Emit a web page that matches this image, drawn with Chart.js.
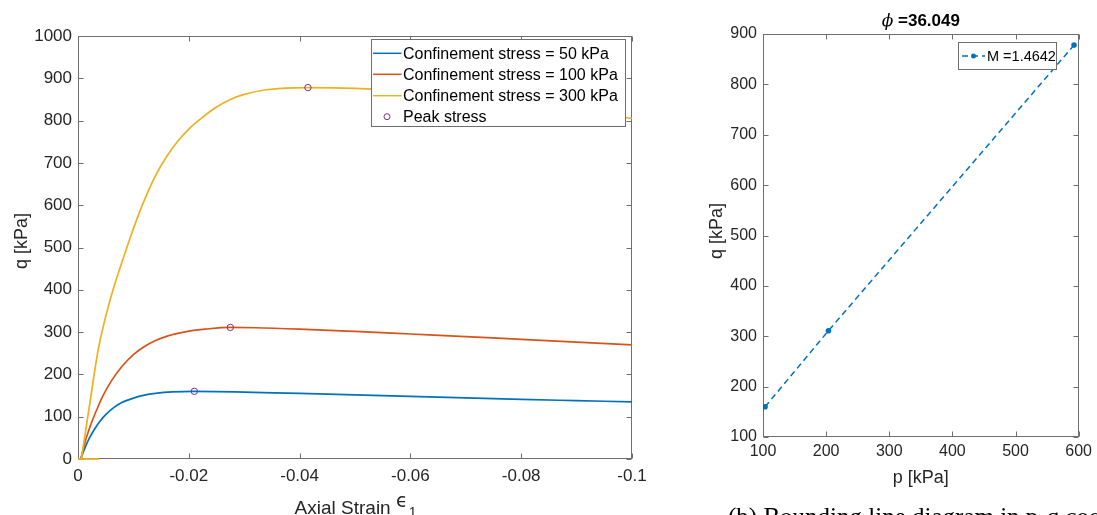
<!DOCTYPE html>
<html>
<head>
<meta charset="utf-8">
<script src="https://cdn.jsdelivr.net/npm/chart.js@4/dist/chart.umd.min.js"></script>
<style>
  html, body { margin: 0; padding: 0; background: #fff; }
  body { width: 1097px; height: 515px; position: relative; overflow: hidden; }
  #left { position: absolute; left: 0; top: 0; }
  #right { position: absolute; left: 680px; top: 0; }
  #caption {
    position: absolute; left: 728px; top: 504px; white-space: nowrap;
    font-family: "Liberation Serif", "Times New Roman", serif; font-size: 25px; line-height: 25px; color: #000;
  }
</style>
</head>
<body>
<canvas id="left" width="660" height="515"></canvas>
<canvas id="right" width="417" height="515"></canvas>
<div id="caption">(b) Bounding line diagram in p-q coordinates</div>
<script>
// Deviatoric stress q [kPa] against axial strain for three confinement stresses
const strain50 = [-0.0005, -0.001, -0.002, -0.003, -0.004, -0.005, -0.0065, -0.008, -0.010, -0.012, -0.014, -0.017, -0.021, -0.025, -0.03, -0.04, -0.05, -0.06, -0.07, -0.08, -0.09, -0.1];
const q50 = [0, 18, 48, 71, 90, 105, 122, 134, 144, 151, 155, 158.5, 160, 159.5, 158, 155, 151.5, 148, 144.5, 141, 138, 135];

const strain100 = [-0.0005, -0.001, -0.0015, -0.0025, -0.0035, -0.0045, -0.006, -0.008, -0.010, -0.012, -0.014, -0.016, -0.018, -0.020, -0.023, -0.0275, -0.032, -0.04, -0.05, -0.06, -0.07, -0.08, -0.09, -0.1];
const q100 = [0, 26, 50, 88, 120, 149, 184, 220, 247, 266, 280, 290, 297, 302.5, 307, 311, 310.3, 307, 301.5, 295.5, 289.5, 283, 276.5, 270];

const strain300 = [-0.0006, -0.002, -0.0036, -0.0045, -0.0055, -0.0065, -0.008, -0.0095, -0.011, -0.0125, -0.014, -0.016, -0.018, -0.020, -0.0225, -0.025, -0.0275, -0.030, -0.034, -0.0415, -0.05, -0.06, -0.07, -0.08, -0.09, -0.1];
const q300 = [0, 120, 255, 310, 362, 408, 468, 526, 580, 628, 670, 715, 751, 780, 808, 832, 850, 862, 873, 878, 876, 868, 856, 841, 824, 805];
// initial seating segment of the 300 kPa test
const strain300Seat = [0, -0.0038];
const q300Seat = [0, 0];

// peak of each curve
const peakStrain = [-0.021, -0.0275, -0.0415];
const peakQ = [160, 311, 878];

const seriesLabels = ['Confinement stress = 50 kPa', 'Confinement stress = 100 kPa', 'Confinement stress = 300 kPa', 'Peak stress'];
const strainTicks = [0, -0.02, -0.04, -0.06, -0.08, -0.1];
const strainTickLabels = ['0', '-0.02', '-0.04', '-0.06', '-0.08', '-0.1'];
const qTicksLeft = [0, 100, 200, 300, 400, 500, 600, 700, 800, 900, 1000];

// peak states in the p-q plane
const pPeak = [103.3, 203.7, 592.7];
const qPeakPQ = [160, 311, 878];
const pTicks = [100, 200, 300, 400, 500, 600];
const qTicksRight = [100, 200, 300, 400, 500, 600, 700, 800, 900];
const slopeM = '1.4642';
const phiDeg = '36.049';

const BLUE = '#0072BD', ORANGE = '#D95319', YELLOW = '#EDB120', PURPLE = '#7E2F8E';
const AXIS = '#262626', FRAME = '#6f6f6f';
const SANS = '"Liberation Sans", Arial, sans-serif';

const pts = (xs, ys) => xs.map((x, i) => ({ x: x, y: ys[i] }));

// box round the plot area with inward tick marks on all four sides
const boxAxes = {
  id: 'boxAxes',
  beforeDatasetsDraw(chart) {
    const { ctx, chartArea: a, scales } = chart;
    const L = Math.round(a.left) + 0.5, R = Math.round(a.right) - 0.5;
    const T = Math.round(a.top) + 0.5, B = Math.round(a.bottom) - 0.5;
    ctx.save();
    ctx.strokeStyle = FRAME;
    ctx.lineWidth = 1;
    ctx.strokeRect(L, T, R - L, B - T);
    ctx.beginPath();
    scales.x.ticks.forEach(t => {
      const px = Math.round(scales.x.getPixelForValue(t.value)) + 0.5;
      ctx.moveTo(px, B); ctx.lineTo(px, B - 5);
      ctx.moveTo(px, T); ctx.lineTo(px, T + 5);
    });
    scales.y.ticks.forEach(t => {
      const py = Math.round(scales.y.getPixelForValue(t.value)) + 0.5;
      ctx.moveTo(L, py); ctx.lineTo(L + 5, py);
      ctx.moveTo(R, py); ctx.lineTo(R - 5, py);
    });
    ctx.stroke();
    ctx.restore();
  }
};

function vText(ctx, text, x, y, font) {
  ctx.save();
  ctx.translate(x, y);
  ctx.rotate(-Math.PI / 2);
  ctx.font = font;
  ctx.textAlign = 'center';
  ctx.textBaseline = 'middle';
  ctx.fillText(text, 0, 0);
  ctx.restore();
}

// axis titles and legend of the stress-strain plot
const leftDecor = {
  id: 'leftDecor',
  afterDraw(chart) {
    const { ctx, chartArea: a } = chart;
    ctx.save();
    ctx.fillStyle = AXIS;
    vText(ctx, 'q [kPa]', 22, 241, '18px ' + SANS);

    // x title with subscript
    const f1 = '19px ' + SANS, f2 = '19px "DejaVu Sans", ' + SANS, f3 = '14px ' + SANS;
    const part1 = 'Axial Strain ', part2 = '\u03F5', part3 = '1';
    ctx.font = f1; const w1 = ctx.measureText(part1).width;
    ctx.font = f2; const w2 = ctx.measureText(part2).width;
    ctx.font = f3; const w3 = ctx.measureText(part3).width;
    let x0 = (a.left + a.right) / 2 - (w1 + w2 + w3) / 2;
    ctx.textAlign = 'left';
    ctx.textBaseline = 'alphabetic';
    ctx.font = f1; ctx.fillText(part1, x0, 514);
    ctx.font = f2; ctx.fillText(part2, x0 + w1, 507);
    ctx.font = f3; ctx.fillText(part3, x0 + w1 + w2 + 1, 517);

    // legend
    const bx = 371.5, by = 39.5, bw = 254, bh = 87;
    ctx.fillStyle = '#fff';
    ctx.fillRect(bx, by, bw, bh);
    ctx.strokeStyle = FRAME; ctx.lineWidth = 1;
    ctx.strokeRect(bx, by, bw, bh);
    const rows = [53.3, 74.3, 95.7, 116.7];
    const entries = chart.data.datasets.filter(d => d.label);
    ctx.font = '16px ' + SANS;
    ctx.textBaseline = 'middle';
    entries.forEach((d, i) => {
      const y = rows[i];
      if (d.showLine) {
        ctx.strokeStyle = d.borderColor; ctx.lineWidth = 1.5;
        ctx.beginPath(); ctx.moveTo(373, y); ctx.lineTo(401.5, y); ctx.stroke();
      } else {
        ctx.strokeStyle = d.borderColor; ctx.lineWidth = 1;
        ctx.beginPath(); ctx.arc(387, y, 3, 0, Math.PI * 2); ctx.stroke();
      }
      ctx.fillStyle = '#000';
      ctx.fillText(d.label, 403, y + 1);
    });
    ctx.restore();
  }
};

// title, axis titles and legend of the p-q plot
const rightDecor = {
  id: 'rightDecor',
  afterDraw(chart) {
    const { ctx, chartArea: a } = chart;
    ctx.save();
    ctx.fillStyle = AXIS;
    vText(ctx, 'q [kPa]', 37, 231, '18px ' + SANS);
    ctx.font = '18px ' + SANS;
    ctx.textAlign = 'center';
    ctx.textBaseline = 'middle';
    ctx.fillText('p [kPa]', (a.left + a.right) / 2, 478);

    // title
    const fPhi = 'italic 17px "DejaVu Serif", serif', fNum = 'bold 17px ' + SANS;
    const tPhi = '\u03D5', tNum = ' =' + phiDeg;
    ctx.font = fPhi; const wp = ctx.measureText(tPhi).width;
    ctx.font = fNum; const wn = ctx.measureText(tNum).width;
    const tx = (a.left + a.right) / 2 - (wp + wn) / 2;
    ctx.fillStyle = '#000';
    ctx.textAlign = 'left';
    ctx.textBaseline = 'alphabetic';
    ctx.font = fPhi; ctx.fillText(tPhi, tx, 26);
    ctx.font = fNum; ctx.fillText(tNum, tx + wp, 26);

    // legend
    const bx = 278.5, by = 42.5, bw = 98, bh = 27;
    ctx.fillStyle = '#fff';
    ctx.fillRect(bx, by, bw, bh);
    ctx.strokeStyle = FRAME; ctx.lineWidth = 1;
    ctx.strokeRect(bx, by, bw, bh);
    const d = chart.data.datasets[0];
    const ly = 56;
    ctx.strokeStyle = d.borderColor; ctx.lineWidth = 1.5;
    ctx.setLineDash(d.borderDash);
    ctx.beginPath(); ctx.moveTo(282, ly); ctx.lineTo(305, ly); ctx.stroke();
    ctx.setLineDash([]);
    ctx.fillStyle = d.borderColor;
    ctx.beginPath(); ctx.arc(293.5, ly, 2.5, 0, Math.PI * 2); ctx.fill();
    ctx.fillStyle = '#000';
    ctx.font = '14.5px ' + SANS;
    ctx.textBaseline = 'middle';
    ctx.fillText(d.label, 307, ly + 1);
    ctx.restore();
  }
};

function axisOpts(min, max, tickValues, labels, size, pad, fitFn, reverse) {
  return {
    type: 'linear', min: min, max: max, reverse: !!reverse,
    grid: { display: false, drawTicks: false },
    border: { display: false },
    afterBuildTicks: s => { s.ticks = tickValues.map(v => ({ value: v })); },
    afterFit: fitFn,
    ticks: {
      autoSkip: false, maxRotation: 0, minRotation: 0, padding: pad, color: AXIS,
      font: { family: SANS, size: size },
      callback: (v, i) => labels ? labels[i] : String(v)
    }
  };
}

Chart.defaults.animation = false;

const curve = (label, xs, ys, color, order) => ({
  label: label, data: pts(xs, ys), showLine: true, borderColor: color, borderWidth: 1.7,
  pointRadius: 0, cubicInterpolationMode: 'monotone', order: order, clip: false
});

new Chart(document.getElementById('left'), {
  type: 'scatter',
  data: {
    datasets: [
      curve(seriesLabels[0], strain50, q50, BLUE, 3),
      curve(seriesLabels[1], strain100, q100, ORANGE, 2),
      curve(seriesLabels[2], strain300, q300, YELLOW, 1),
      { label: seriesLabels[3], data: pts(peakStrain, peakQ), showLine: false, borderColor: PURPLE, backgroundColor: 'rgba(0,0,0,0)', borderWidth: 1, pointRadius: 3.2, pointStyle: 'circle', order: 0 },
      { label: '', data: pts(strain300Seat, q300Seat), showLine: true, borderColor: YELLOW, borderWidth: 1.7, pointRadius: 0, order: 1, clip: false }
    ]
  },
  options: {
    responsive: false,
    animation: false,
    events: [],
    layout: { padding: { left: 0, top: 36, right: 28, bottom: 0 } },
    plugins: { legend: { display: false }, tooltip: { enabled: false } },
    scales: {
      x: axisOpts(-0.1, 0, strainTicks, strainTickLabels, 17, 7, s => { s.height = 56; }, true),
      y: axisOpts(0, 1000, qTicksLeft, null, 17, 6, s => { s.width = 78; })
    }
  },
  plugins: [boxAxes, leftDecor]
});

new Chart(document.getElementById('right'), {
  type: 'scatter',
  data: {
    datasets: [
      { label: 'M =' + slopeM, data: pts(pPeak, qPeakPQ), showLine: true, borderColor: BLUE, borderWidth: 1.5, borderDash: [6, 4],
        pointRadius: 2.8, pointBackgroundColor: BLUE, pointBorderColor: BLUE, pointBorderWidth: 0 }
    ]
  },
  options: {
    responsive: false,
    animation: false,
    events: [],
    layout: { padding: { left: 0, top: 34, right: 14, bottom: 0 } },
    plugins: { legend: { display: false }, tooltip: { enabled: false } },
    scales: {
      x: axisOpts(100, 600, pTicks, null, 16, 5, s => { s.height = 78; }),
      y: axisOpts(100, 900, qTicksRight, null, 16, 6, s => { s.width = 83; })
    }
  },
  plugins: [boxAxes, rightDecor]
});
</script>
</body>
</html>
